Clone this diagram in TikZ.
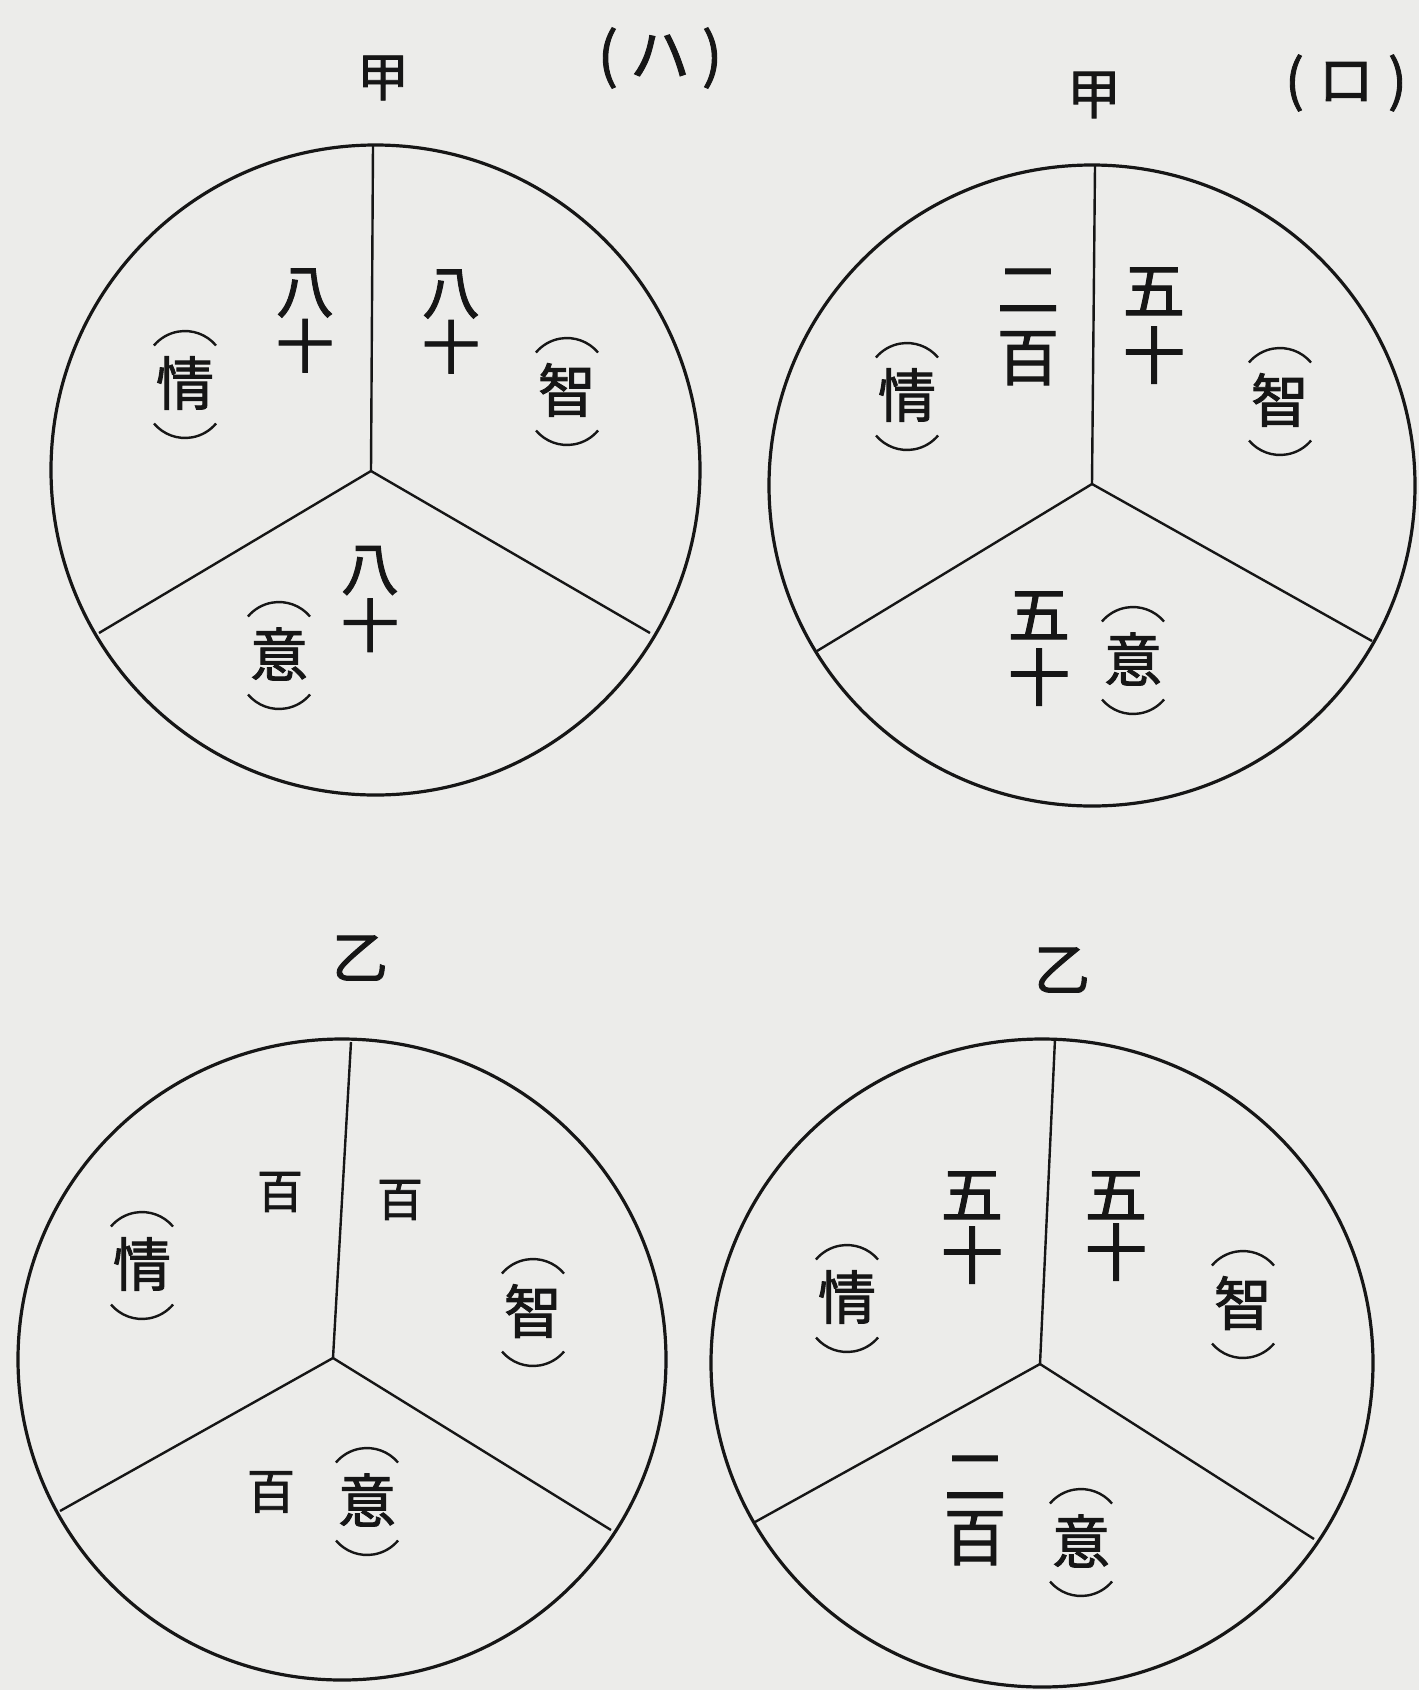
\documentclass[tikz,border=0pt]{standalone}
\usepackage{fontspec}
\newfontfamily\jp[FakeBold=1.6]{Noto Sans CJK JP}
\definecolor{paper}{RGB}{236,236,234}
\definecolor{ink}{RGB}{22,22,22}
\newcommand\plab[3]{%
  \node[lab] (#1) at (#2) {#3};
  \draw[parc] ([shift={(31,37.5)}]#1.center) arc[start angle=40,end angle=140,radius=40.5];
  \draw[parc] ([shift={(-31,-40.5)}]#1.center) arc[start angle=220,end angle=320,radius=40.5];
}
\begin{document}
\begin{tikzpicture}[x=1pt,y=1pt,
  rim/.style={draw=ink, line width=3.2pt},
  spoke/.style={draw=ink, line width=2.4pt},
  parc/.style={draw=ink, line width=2.4pt},
  ttl/.style={inner sep=0pt, text=ink, font=\jp\fontsize{#1}{#1}\selectfont},
  num/.style 2 args={inner sep=0pt, text=ink, align=center, font=\jp\fontsize{#1}{#2}\selectfont},
  lab/.style={inner sep=0pt, text=ink, font=\jp\fontsize{58}{58}\selectfont}]
\fill[paper] (0,0) rectangle (1419,-1690);
\useasboundingbox (0,0) rectangle (1419,-1690);

% ---- circle 1 (ハ) 甲
\coordinate (c1) at (375.5,-470);
\coordinate (j1) at (371,-471);
\coordinate (t1) at (373,-145);
\coordinate (l1) at (99,-633);
\coordinate (r1) at (650,-633);
\draw[rim] (c1) ellipse[x radius=324.5, y radius=325];
\draw[spoke] (t1) -- (j1);
\draw[spoke] (l1) -- (j1) -- (r1);
\node[ttl=52] (k1) at (383,-78) {甲};
\node[ttl=60] (h1) at (660,-58) {(\hspace{12pt}ハ\hspace{12pt})};
\node[num={58}{55}] (n1a) at (305,-320.5) {八\\十};
\node[num={58}{55}] (n1b) at (451,-321.5) {八\\十};
\node[num={58}{57}] (n1c) at (370,-599) {八\\十};
\plab{p1a}{185,-383}{情}
\plab{p1b}{567,-390}{智}
\plab{p1c}{279,-654}{意}

% ---- circle 2 (ロ) 甲
\coordinate (c2) at (1092,-485.5);
\coordinate (j2) at (1092,-484);
\coordinate (t2) at (1095,-166);
\coordinate (l2) at (817,-651);
\coordinate (r2) at (1372,-641);
\draw[rim] (c2) ellipse[x radius=323, y radius=320.5];
\draw[spoke] (t2) -- (j2);
\draw[spoke] (l2) -- (j2) -- (r2);
\node[ttl=54] (k2) at (1094,-95) {甲};
\node[ttl=56] (h2) at (1346,-83) {(\hspace{14pt}ロ\hspace{14pt})};
\node[num={62}{68}] (n2a) at (1028,-327) {二\\百};
\node[num={62}{65}] (n2b) at (1154,-325.5) {五\\十};
\node[num={62}{63}] (n2c) at (1039,-648.5) {五\\十};
\plab{p2a}{907,-395}{情}
\plab{p2b}{1280,-400}{智}
\plab{p2c}{1133,-659}{意}

% ---- circle 3 乙
\coordinate (c3) at (342,-1359.5);
\coordinate (j3) at (333,-1358);
\coordinate (t3) at (351,-1042);
\coordinate (l3) at (60,-1511);
\coordinate (r3) at (611,-1530);
\draw[rim] (c3) ellipse[x radius=324, y radius=320.5];
\draw[spoke] (t3) -- (j3);
\draw[spoke] (l3) -- (j3) -- (r3);
\node[ttl=56] (k3) at (360,-958) {乙};
\node[num={46}{46}] (n3a) at (280,-1192) {百};
\node[num={46}{46}] (n3b) at (400,-1200) {百};
\node[num={48}{48}] (n3c) at (271,-1492) {百};
\plab{p3a}{142,-1264}{情}
\plab{p3b}{533,-1311}{智}
\plab{p3c}{367,-1500}{意}

% ---- circle 4 乙
\coordinate (c4) at (1042,-1363);
\coordinate (j4) at (1040,-1364);
\coordinate (t4) at (1055,-1039);
\coordinate (l4) at (755,-1522);
\coordinate (r4) at (1314,-1539);
\draw[rim] (c4) ellipse[x radius=331, y radius=324];
\draw[spoke] (t4) -- (j4);
\draw[spoke] (l4) -- (j4) -- (r4);
\node[ttl=56] (k4) at (1062,-970) {乙};
\node[num={62}{61}] (n4a) at (972,-1227.5) {五\\十};
\node[num={62}{58}] (n4b) at (1116,-1226) {五\\十};
\node[num={62}{61}] (n4c) at (975,-1510.5) {二\\百};
\plab{p4a}{847,-1297}{情}
\plab{p4b}{1243,-1303}{智}
\plab{p4c}{1081,-1541}{意}
\end{tikzpicture}
\end{document}
